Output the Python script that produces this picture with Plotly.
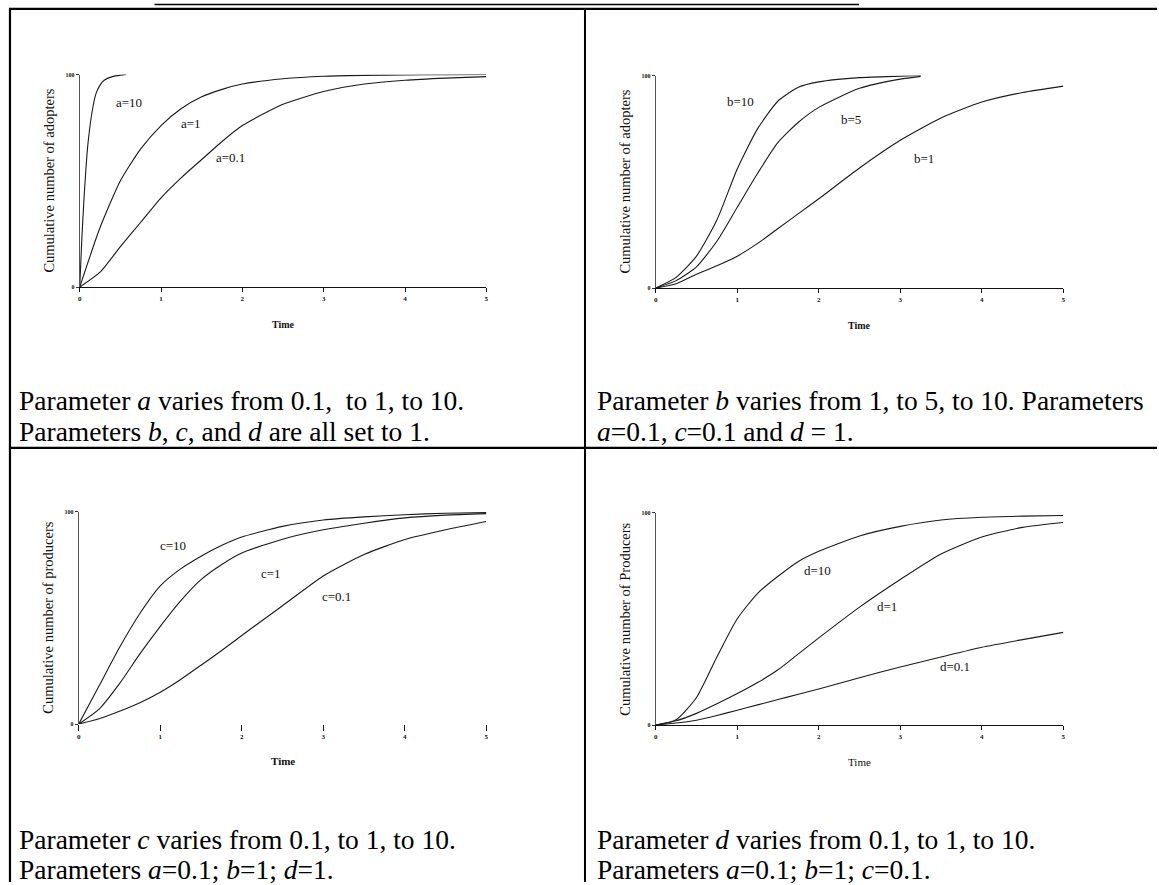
import plotly.graph_objects as go

W, H = 1159, 885

# ---------------- data ----------------
t = [0, 0.25, 0.5, 0.75, 1, 1.25, 1.5, 1.75, 2, 2.5, 3, 3.5, 4, 4.5, 5]

# panel a (b=c=d=1)
t_a10 = [0, 0.025, 0.05, 0.075, 0.1, 0.15, 0.2, 0.25, 0.3, 0.4, 0.5, 0.57]
y_a10 = [0, 22, 40, 55, 67, 82, 91, 95, 97.3, 99, 99.7, 100]
y_a1 = [0, 28, 50, 65, 76, 84, 89.5, 93, 95.5, 98, 99.2, 99.6, 99.8, 99.9, 100]
y_a01 = [0, 7, 19, 30.5, 42, 51.5, 60, 68.5, 76, 86, 92, 95.5, 97.3, 98.3, 99]

# panel b (a=0.1, c=0.1, d=1)
t_b = [0, 0.25, 0.5, 0.75, 1, 1.25, 1.5, 1.75, 2, 2.5, 3, 3.25]
y_b10 = [0, 5, 15, 32, 56, 75, 88, 94.5, 97, 99, 99.7, 100]
y_b5 = [0, 3.5, 10, 22, 38, 54, 68.5, 78, 85, 94, 98.3, 99.6]
y_b1 = [0, 2, 6.5, 10.5, 15, 21, 28, 35, 42, 56.5, 69.5, 80, 87.5, 92, 95]

# panel c (a=0.1, b=1, d=1)
y_c10 = [0, 18, 36, 52, 65, 73, 79, 84, 88, 93, 96, 97.5, 98.5, 99.2, 99.5]
y_c1 = [0, 7, 19, 33, 46, 58, 68, 75, 80.5, 87, 91.4, 94.5, 97, 98.3, 99]
y_c01 = [0, 2.5, 6, 10, 15, 21, 27.7, 34.5, 41.7, 55.7, 69.7, 79.8, 86.8, 91.4, 95.3]

# panel d (a=0.1, b=1, c=0.1)
y_d10 = [0, 2.5, 13, 32, 50, 62, 70, 77, 81.8, 89, 93.5, 96.5, 97.8, 98.3, 98.6]
y_d1 = [0, 2, 5.5, 10, 14.8, 20, 26, 33.5, 41, 55.5, 68.5, 80.5, 88.5, 93, 95.3]
y_d01 = [0, 1, 2.3, 4.5, 7, 9.5, 12, 14.5, 17, 22.3, 27.3, 32, 36.6, 40.2, 43.6]

x_ticks = [0, 1, 2, 3, 4, 5]
y_ticks = [0, 100]

# ---------------- figure ----------------
fig = go.Figure()

def px_x(p):
    return p / W

def px_y(p):
    return 1 - p / H

panels = [
    # (axis suffix, x px range, y px range (y0, y100), show x line, ytitle, time bold)
    ("", (78, 486), (286, 72), True, "Cumulative number of adopters", True),
    ("2", (656, 1065), (287, 73), True, "Cumulative number of adopters", True),
    ("3", (77, 486), (726, 512), False, "Cumulative number of producers", True),
    ("4", (656, 1065), (727, 513), True, "Cumulative number of Producers", False),
]

series = [
    [(t_a10, y_a10), (t, y_a1), (t, y_a01)],
    [(t_b, y_b10), (t_b, y_b5), (t, y_b1)],
    [(t, y_c10), (t, y_c1), (t, y_c01)],
    [(t, y_d10), (t, y_d1), (t, y_d01)],
]

labels = [
    [("a=10", 0.61, 87), ("a=1", 1.37, 77), ("a=0.1", 1.85, 61)],
    [("b=10", 1.04, 88), ("b=5", 2.39, 79.5), ("b=1", 3.29, 61)],
    [("c=10", 1.16, 84), ("c=1", 2.36, 71), ("c=0.1", 3.16, 60)],
    [("d=10", 1.98, 72.5), ("d=1", 2.84, 56), ("d=0.1", 3.67, 27.5)],
]

serif = "Liberation Serif, Times New Roman, serif"
layout_axes = {}
annotations = []

for i, (suf, (x0p, x5p), (y0p, y100p), xline, ytitle, tbold) in enumerate(panels):
    xa = "xaxis" + suf
    ya = "yaxis" + suf
    xr = "x" + suf
    yr = "y" + suf
    layout_axes[xa] = dict(
        domain=[px_x(x0p), px_x(x5p)], range=[0, 5], anchor=yr,
        tickvals=x_ticks, ticktext=["<b>%d</b>" % v for v in x_ticks],
        showline=xline, linecolor="#111", linewidth=1.3,
        ticks="outside", ticklen=4 if xline else 6, tickcolor="#111", tickwidth=1,
        tickfont=dict(family=serif, size=7, color="#111"),
        showgrid=False, zeroline=False, fixedrange=True,
    )
    layout_axes[ya] = dict(
        domain=[px_y(y0p), px_y(y100p)], range=[0, 100], anchor=xr,
        tickvals=y_ticks, ticktext=["<b>%d</b>" % v for v in y_ticks],
        showline=True, linecolor="#555", linewidth=1,
        ticks="outside", ticklen=3, tickcolor="#333",
        tickfont=dict(family=serif, size=6, color="#111"),
        showgrid=False, zeroline=False, fixedrange=True,
    )
    for (xs, ys) in series[i]:
        fig.add_trace(go.Scatter(
            x=xs, y=ys, mode="lines", xaxis=xr, yaxis=yr,
            line=dict(color="#1a1a1a", width=1.1, shape="spline", smoothing=0.6),
            showlegend=False, hoverinfo="skip",
        ))
    for (txt, lx, ly) in labels[i]:
        annotations.append(dict(
            text=txt, x=lx, y=ly, xref=xr, yref=yr, showarrow=False,
            xanchor="center", yanchor="middle",
            font=dict(family=serif, size=13, color="#111"),
        ))
    # y axis title
    annotations.append(dict(
        text=ytitle, x=px_x(x0p - 31), y=px_y((y0p + y100p) / 2),
        xref="paper", yref="paper", showarrow=False, textangle=-90,
        xanchor="center", yanchor="middle",
        font=dict(family=serif, size=14.5, color="#111"),
    ))
    # x axis title
    annotations.append(dict(
        text="<b>Time</b>" if tbold else "Time",
        x=px_x((x0p + x5p) / 2), y=px_y(y0p + 38 if i < 2 else y0p + 37),
        xref="paper", yref="paper", showarrow=False,
        xanchor="center", yanchor="middle",
        font=dict(family=serif, size=11 if i >= 2 else 10, color="#111"),
    ))

captions = [
    ("Parameter <i>a</i> varies from 0.1,\u00a0 to 1, to 10.", 15, 400),
    ("Parameters <i>b</i>, <i>c</i>, and <i>d</i> are all set to 1.", 15, 431),
    ("Parameter <i>b</i> varies from 1, to 5, to 10. Parameters", 595, 400),
    ("<i>a</i>=0.1, <i>c</i>=0.1 and <i>d</i> = 1.", 595, 431),
    ("Parameter <i>c</i> varies from 0.1, to 1, to 10.", 15, 842),
    ("Parameters <i>a</i>=0.1; <i>b</i>=1; <i>d</i>=1.", 15, 872),
    ("Parameter <i>d</i> varies from 0.1, to 1, to 10.", 595, 842),
    ("Parameters <i>a</i>=0.1; <i>b</i>=1; <i>c</i>=0.1.", 595, 872),
]
for txt, cx, cy in captions:
    annotations.append(dict(
        text=txt, x=px_x(cx), y=px_y(cy), xref="paper", yref="paper",
        xanchor="left", yanchor="middle", showarrow=False,
        font=dict(family=serif, size=27.5, color="#000"),
    ))

# table frame
def hline(y, x0, x1, w=2):
    return dict(type="line", xref="paper", yref="paper",
                x0=px_x(x0), x1=px_x(x1), y0=px_y(y), y1=px_y(y),
                line=dict(color="#000", width=w))

def vline(x, y0, y1, w=2):
    return dict(type="line", xref="paper", yref="paper",
                x0=px_x(x), x1=px_x(x), y0=px_y(y0), y1=px_y(y1),
                line=dict(color="#000", width=w))

shapes = [
    hline(6, 7, 1159, 2.2),
    hline(448, 7, 1159, 2.2),
    vline(8, 6, 885, 2.2),
    vline(585, 6, 885, 2),
    hline(1.5, 153, 860, 1.5),
]

fig.update_layout(
    width=W, height=H, margin=dict(l=0, r=0, t=0, b=0),
    paper_bgcolor="white", plot_bgcolor="white",
    annotations=annotations, shapes=shapes,
    **layout_axes,
)

fig.write_html("out.html", config={"displayModeBar": False})
